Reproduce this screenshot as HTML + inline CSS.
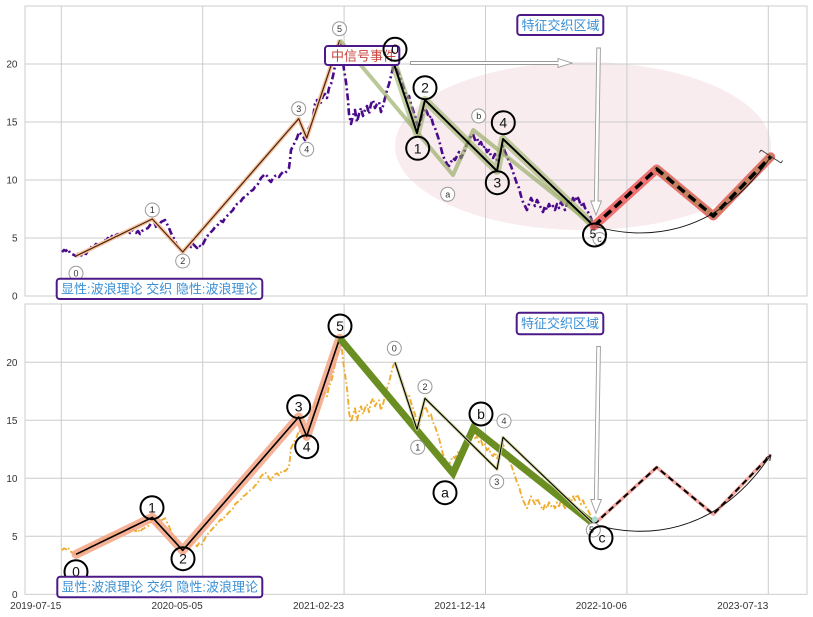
<!DOCTYPE html>
<html><head><meta charset="utf-8"><style>
html,body{margin:0;padding:0;background:#fff;}
svg{display:block;}
.tk{font-family:"Liberation Sans",sans-serif;font-size:10px;fill:#333;}
.bn{font-family:"Liberation Sans",sans-serif;font-size:14px;fill:#111;text-anchor:middle;}
.sn{font-family:"Liberation Sans",sans-serif;font-size:9px;fill:#333;text-anchor:middle;}
.cj{font-family:"Liberation Sans","Noto Sans CJK SC",sans-serif;font-size:13px;}
</style></head><body>
<svg width="813" height="617" viewBox="0 0 813 617" xmlns="http://www.w3.org/2000/svg">
<rect width="813" height="617" fill="#fff"/>

<!-- ===== TOP AXES ===== -->
<rect x="25" y="6" width="782" height="290" fill="#fff"/>
<ellipse cx="583" cy="146" rx="188" ry="84" fill="#f8ecef"/>
<g stroke="#cccccc" stroke-width="1">
<line x1="25" y1="64" x2="807" y2="64"/><line x1="25" y1="122" x2="807" y2="122"/>
<line x1="25" y1="180" x2="807" y2="180"/><line x1="25" y1="238" x2="807" y2="238"/>
<line x1="61.3" y1="6" x2="61.3" y2="296"/><line x1="202.7" y1="6" x2="202.7" y2="296"/>
<line x1="344.1" y1="6" x2="344.1" y2="296"/><line x1="485.5" y1="6" x2="485.5" y2="296"/>
<line x1="626.9" y1="6" x2="626.9" y2="296"/><line x1="768.3" y1="6" x2="768.3" y2="296"/>
<rect x="25" y="6" width="782" height="290" fill="none"/>
</g>
<g class="tk" text-anchor="end">
<text x="17.5" y="299.5">0</text><text x="17.5" y="241.5">5</text><text x="17.5" y="183.5">10</text>
<text x="17.5" y="125.5">15</text><text x="17.5" y="67.5">20</text>
</g>

<!-- purple series -->
<polyline fill="none" stroke="#4b0a8c" stroke-width="2.6" stroke-dasharray="7 3 2 3" stroke-linejoin="round" points="62,252 64,250 66,251 68,249 70,253 72,254 74,255 76,256 78,254 80,256 82,255 84,253 86,254 88,250 90,249 92,246 94,247 96,244 98,245 100,242 102,243 104,240 106,241 108,238 110,239 112,236 114,238 116,235 118,234 120,236 122,233 124,234 126,232 128,231 130,233 132,230 134,232 136,233 138,231 140,234 142,231 144,230 146,229 148,228 150,225 152,222 153,219 155,224 157,229 159,226 161,222 163,221 165,220 167,224 169,228 171,233 173,237 175,240 177,246 179,249 181,251 183,253 185,250 187,248 189,245 191,247 193,244 195,246 197,248 199,245 201,247 203,244 205,240 207,236 209,235 211,232 213,230 215,227 217,226 219,223 221,221 223,222 225,218 227,216 229,214 231,212 233,210 235,206 237,204 239,203 241,201 243,198 245,197 247,195 249,193 251,191 253,190 255,187 257,186 259,182 261,178 263,176 265,174 267,176 269,180 271,182 273,178 275,176 277,175 279,177 281,174 283,172 285,173 287,171 289,168 290,160 291,150 293,146 295,142 297,138 299,132 301,134 303,136 305,140 307,132 309,128 311,124 313,118 315,104 317,100 319,106 321,102 323,96 325,94 327,98 329,88 331,84 333,76 335,66 337,58 339,48 340,42 342,52 344,70 346,82 348,100 349,114 351,124 353,116 355,110 357,122 359,114 361,108 363,116 365,110 367,106 369,114 371,104 373,100 375,108 377,104 379,102 381,112 383,106 385,98 387,90 389,84 391,76 393,68 395,64 397,70 399,74 401,80 403,86 405,92 407,98 409,96 411,104 413,110 415,116 417,124 419,128 421,120 423,112 425,108 427,112 429,118 431,116 433,124 435,128 437,134 439,140 441,148 443,156 445,160 447,164 449,166 451,162 453,158 455,160 457,156 459,152 461,158 463,154 465,150 467,144 469,140 471,136 473,134 475,140 477,138 479,144 481,142 483,148 485,146 487,152 489,150 491,156 493,158 495,154 497,160 499,156 501,150 503,146 505,152 507,156 509,162 511,166 513,172 515,178 517,184 519,188 521,196 523,202 525,206 527,210 529,204 531,198 533,202 535,206 537,200 539,204 541,208 543,212 545,206 547,210 549,204 551,208 553,206 555,210 557,204 559,208 561,202 563,206 565,210 567,204 569,200 571,204 573,198 575,202 577,196 579,200 581,206 583,202 585,208 587,210 589,214 591,218 593,225"/>

<!-- impulse 1 top -->
<polyline fill="none" stroke="#f6c39e" stroke-width="4" stroke-linejoin="round" points="76,256 152.3,219 182.7,252 298.7,118.7 306.7,138 339.7,40"/>
<polyline fill="none" stroke="#4a2410" stroke-width="1.2" stroke-linejoin="round" points="76,256 152.3,219 182.7,252 298.7,118.7 306.7,138 339.7,40"/>

<!-- green ABC top -->
<polyline fill="none" stroke="#8ca353" stroke-opacity="0.6" stroke-width="4" stroke-linejoin="round" points="339.7,40 453,175 473.3,130 594,226"/>
<!-- impulse 2 top with glow -->
<polyline fill="none" stroke="#9bb068" stroke-opacity="0.6" stroke-width="8" stroke-linejoin="round" points="394,64 417,133 425,100 497,171 503,139 594,226"/>
<polyline fill="none" stroke="#000" stroke-width="2" stroke-linejoin="round" points="394,64 417,133 425,100 497,171 503,139 594,226"/>

<!-- projection top -->
<polyline fill="none" stroke="#ef7171" stroke-width="9" stroke-linejoin="round" stroke-linecap="round" points="594,226 656.7,169 713.3,216 770.7,156.7"/>
<polyline fill="none" stroke="#c5805f" stroke-width="6.5" stroke-linejoin="round" stroke-linecap="round" points="656.7,169 713.3,216 770.7,156.7"/>
<polyline fill="none" stroke="#000" stroke-width="3.5" stroke-dasharray="9 5" stroke-linejoin="round" points="594,226 656.7,169 713.3,216 770.7,156.7"/>
<path d="M594,226 C640,240 715,240 770.7,156.7" fill="none" stroke="#111" stroke-width="0.9"/>
<g stroke="#333" stroke-width="0.9" fill="none">
<line x1="761" y1="150" x2="781" y2="163"/>
<line x1="761" y1="150" x2="759.4" y2="152.5"/><line x1="781" y1="163" x2="782.6" y2="160.5"/>
</g>

<!-- small circles top -->
<g fill="#fff" stroke="#999" stroke-width="1">
<circle cx="76" cy="273.3" r="7"/><circle cx="152.3" cy="210" r="7"/><circle cx="182.7" cy="261" r="7"/>
<circle cx="298.7" cy="108.7" r="7"/><circle cx="306.7" cy="149.3" r="7"/><circle cx="339.5" cy="28.7" r="7"/>
<circle cx="447.7" cy="194.3" r="7"/><circle cx="478.7" cy="116" r="7"/>
</g>
<g class="sn">
<text x="76" y="276.5">0</text><text x="152.3" y="213.2">1</text><text x="182.7" y="264.2">2</text>
<text x="298.7" y="111.9">3</text><text x="306.7" y="152.5">4</text><text x="339.5" y="31.9">5</text>
<text x="447.7" y="197.5">a</text><text x="478.7" y="119.2">b</text>
</g>

<!-- 中信号事件 box -->
<rect x="325" y="46" width="74.3" height="19" rx="3" fill="#fff" stroke="#4b1a88" stroke-width="2"/>
<text class="cj" x="331" y="60.5" fill="#c9443e">中信号事件</text>

<!-- big circles top -->
<g fill="none" stroke="#000" stroke-width="2">
<circle cx="395" cy="49.3" r="11.5"/><circle cx="417.7" cy="148.3" r="11.5"/><circle cx="425" cy="87.7" r="11.5"/>
<circle cx="497.3" cy="182.7" r="11.5"/><circle cx="503.3" cy="122.7" r="11.5"/>
</g>
<g class="bn">
<text x="395" y="54">0</text><text x="417.7" y="153.3">1</text><text x="425" y="92.7">2</text>
<text x="497.3" y="187.7">3</text><text x="503.3" y="127.7">4</text>
</g>
<circle cx="594" cy="226" r="3" fill="#c0504d"/>
<circle cx="599.5" cy="239" r="6.5" fill="#fff" fill-opacity="0.6" stroke="#999" stroke-width="1"/>
<text class="sn" x="599.5" y="242.2">c</text>
<circle cx="594.5" cy="235" r="11.5" fill="none" stroke="#000" stroke-width="2"/>
<text class="bn" x="593" y="238" style="font-size:12px">5</text>

<!-- arrows top -->
<polygon points="410.5,61.5 558,61.5 558,58.5 572,63 558,67.5 558,64.5 410.5,64.5" fill="#fff" stroke="#9a9a9a" stroke-width="0.9"/>
<polygon points="596.8,48 600.4,48 598,201 601.4,201 596,215 590.8,201 594.4,201" fill="#fff" stroke="#9a9a9a" stroke-width="0.9"/>

<!-- text boxes top -->
<rect x="517.3" y="15" width="86" height="20" rx="3" fill="#fff" stroke="#4b1a88" stroke-width="2"/>
<text class="cj" x="521.5" y="29.8" fill="#3a8fd4">特征交织区域</text>
<rect x="56.7" y="278.7" width="205.6" height="20.3" rx="3" fill="#fff" stroke="#4b1a88" stroke-width="2"/>
<text class="cj" x="61" y="293.5" fill="#3a8fd4">显性:波浪理论 交织 隐性:波浪理论</text>

<!-- ===== BOTTOM AXES ===== -->
<rect x="25" y="304" width="782" height="290.3" fill="#fff"/>
<g stroke="#cccccc" stroke-width="1">
<line x1="25" y1="362.3" x2="807" y2="362.3"/><line x1="25" y1="420.3" x2="807" y2="420.3"/>
<line x1="25" y1="478.3" x2="807" y2="478.3"/><line x1="25" y1="536.3" x2="807" y2="536.3"/>
<line x1="61.3" y1="304" x2="61.3" y2="594.3"/><line x1="202.7" y1="304" x2="202.7" y2="594.3"/>
<line x1="344.1" y1="304" x2="344.1" y2="594.3"/><line x1="485.5" y1="304" x2="485.5" y2="594.3"/>
<line x1="626.9" y1="304" x2="626.9" y2="594.3"/><line x1="768.3" y1="304" x2="768.3" y2="594.3"/>
<rect x="25" y="304" width="782" height="290.3" fill="none"/>
</g>
<g class="tk" text-anchor="end">
<text x="17.5" y="597.8">0</text><text x="17.5" y="539.8">5</text><text x="17.5" y="481.8">10</text>
<text x="17.5" y="423.8">15</text><text x="17.5" y="365.8">20</text>
<text x="61.3" y="609">2019-07-15</text><text x="202.7" y="609">2020-05-05</text>
<text x="344.1" y="609">2021-02-23</text><text x="485.5" y="609">2021-12-14</text>
<text x="626.9" y="609">2022-10-06</text><text x="768.3" y="609">2023-07-13</text>
</g>

<g transform="translate(0,298.3)">
<!-- orange series -->
<polyline fill="none" stroke="#f0ac2e" stroke-width="1.9" stroke-dasharray="6 2.5 1.6 2.5" stroke-linejoin="round" points="62,252 64,250 66,251 68,249 70,253 72,254 74,255 76,256 78,254 80,256 82,255 84,253 86,254 88,250 90,249 92,246 94,247 96,244 98,245 100,242 102,243 104,240 106,241 108,238 110,239 112,236 114,238 116,235 118,234 120,236 122,233 124,234 126,232 128,231 130,233 132,230 134,232 136,233 138,231 140,234 142,231 144,230 146,229 148,228 150,225 152,222 153,219 155,224 157,229 159,226 161,222 163,221 165,220 167,224 169,228 171,233 173,237 175,240 177,246 179,249 181,251 183,253 185,250 187,248 189,245 191,247 193,244 195,246 197,248 199,245 201,247 203,244 205,240 207,236 209,235 211,232 213,230 215,227 217,226 219,223 221,221 223,222 225,218 227,216 229,214 231,212 233,210 235,206 237,204 239,203 241,201 243,198 245,197 247,195 249,193 251,191 253,190 255,187 257,186 259,182 261,178 263,176 265,174 267,176 269,180 271,182 273,178 275,176 277,175 279,177 281,174 283,172 285,173 287,171 289,168 290,160 291,150 293,146 295,142 297,138 299,132 301,134 303,136 305,140 307,132 309,128 311,124 313,118 315,104 317,100 319,106 321,102 323,96 325,94 327,98 329,88 331,84 333,76 335,66 337,58 339,48 340,42 342,52 344,70 346,82 348,100 349,114 351,124 353,116 355,110 357,122 359,114 361,108 363,116 365,110 367,106 369,114 371,104 373,100 375,108 377,104 379,102 381,112 383,106 385,98 387,90 389,84 391,76 393,68 395,64 397,70 399,74 401,80 403,86 405,92 407,98 409,96 411,104 413,110 415,116 417,124 419,128 421,120 423,112 425,108 427,112 429,118 431,116 433,124 435,128 437,134 439,140 441,148 443,156 445,160 447,164 449,166 451,162 453,158 455,160 457,156 459,152 461,158 463,154 465,150 467,144 469,140 471,136 473,134 475,140 477,138 479,144 481,142 483,148 485,146 487,152 489,150 491,156 493,158 495,154 497,160 499,156 501,150 503,146 505,152 507,156 509,162 511,166 513,172 515,178 517,184 519,188 521,196 523,202 525,206 527,210 529,204 531,198 533,202 535,206 537,200 539,204 541,208 543,212 545,206 547,210 549,204 551,208 553,206 555,210 557,204 559,208 561,202 563,206 565,210 567,204 569,200 571,204 573,198 575,202 577,196 579,200 581,206 583,202 585,208 587,210 589,214 591,218 593,225"/>
<!-- impulse 1 bottom -->
<polyline fill="none" stroke="#f4a585" stroke-opacity="0.85" stroke-width="9" stroke-linejoin="round" stroke-linecap="round" points="76,256 152.3,219 182.7,252 298.7,118.7 306.7,138 339.7,40"/>
<polyline fill="none" stroke="#000" stroke-width="1.6" stroke-linejoin="round" points="76,256 152.3,219 182.7,252 298.7,118.7 306.7,138 339.7,40"/>
<!-- green ABC bottom -->
<polyline fill="none" stroke="#6b8e23" stroke-width="7" stroke-linejoin="miter" points="339.7,40 453,175 473.3,130 594,226"/>
<!-- impulse 2 bottom -->
<polyline fill="none" stroke="#cfcf98" stroke-width="3" stroke-linejoin="round" points="395,64 417,131 425,100 497,171 503,139 594,226"/>
<polyline fill="none" stroke="#000" stroke-width="1.1" stroke-linejoin="round" points="395,64 417,131 425,100 497,171 503,139 594,226"/>
<!-- projection bottom -->
<polyline fill="none" stroke="#f4a6a0" stroke-width="3.5" stroke-linejoin="round" points="594,226 656.7,169 713.3,216 770.7,156.7"/>
<polyline fill="none" stroke="#000" stroke-width="2" stroke-dasharray="6 4" stroke-linejoin="round" points="594,226 656.7,169 713.3,216 770.7,156.7"/>
<path d="M594,226 C640,240 715,240 770.7,156.7" fill="none" stroke="#111" stroke-width="0.9"/>
<polyline fill="none" stroke="#111" stroke-width="0.9" points="765.6,159.8 770.7,156.7 769.8,162.6"/>
<circle cx="595" cy="221" r="3" fill="#a8dcd8"/>
</g>

<!-- small circles bottom -->
<g fill="#fff" stroke="#999" stroke-width="1">
<circle cx="394.3" cy="348.3" r="7"/><circle cx="417.7" cy="447.3" r="7"/><circle cx="425" cy="386.7" r="7"/>
<circle cx="496.7" cy="481.7" r="7"/><circle cx="504" cy="421" r="7"/><circle cx="593.3" cy="530" r="7"/>
</g>
<g class="sn">
<text x="394.3" y="351.5">0</text><text x="417.7" y="450.5">1</text><text x="425" y="389.9">2</text>
<text x="496.7" y="484.9">3</text><text x="504" y="424.2">4</text><text x="591.5" y="533.2">5</text>
</g>

<!-- big circles bottom -->
<g fill="none" stroke="#000" stroke-width="2">
<circle cx="76" cy="571.7" r="11.5"/><circle cx="152" cy="507.7" r="11.5"/><circle cx="183" cy="558.7" r="11.5"/>
<circle cx="298.7" cy="406.7" r="11.5"/><circle cx="306.7" cy="446.7" r="11.5"/><circle cx="340" cy="326" r="11.5"/>
<circle cx="445" cy="492.7" r="11.5"/><circle cx="481" cy="414" r="11.5"/><circle cx="601" cy="537.7" r="11.5"/>
</g>
<g class="bn">
<text x="76" y="576.7">0</text><text x="152" y="512.7">1</text><text x="183" y="563.7">2</text>
<text x="298.7" y="411.7">3</text><text x="306.7" y="451.7">4</text><text x="340" y="331">5</text>
<text x="445" y="497.7">a</text><text x="481" y="419">b</text><text x="602" y="542.7">c</text>
</g>

<!-- arrow bottom -->
<polygon points="596.8,346.5 600.4,346.5 598,499.5 601.4,499.5 596,513.3 590.8,499.5 594.4,499.5" fill="#fff" stroke="#9a9a9a" stroke-width="0.9"/>

<!-- text boxes bottom -->
<rect x="516.7" y="312.7" width="86.6" height="21.6" rx="3" fill="#fff" stroke="#4b1a88" stroke-width="2"/>
<text class="cj" x="521" y="328.2" fill="#3a8fd4">特征交织区域</text>
<rect x="57.3" y="576.7" width="205" height="20.6" rx="3" fill="#fff" stroke="#4b1a88" stroke-width="2"/>
<text class="cj" x="61.5" y="591.7" fill="#3a8fd4">显性:波浪理论 交织 隐性:波浪理论</text>
</svg>
</body></html>
